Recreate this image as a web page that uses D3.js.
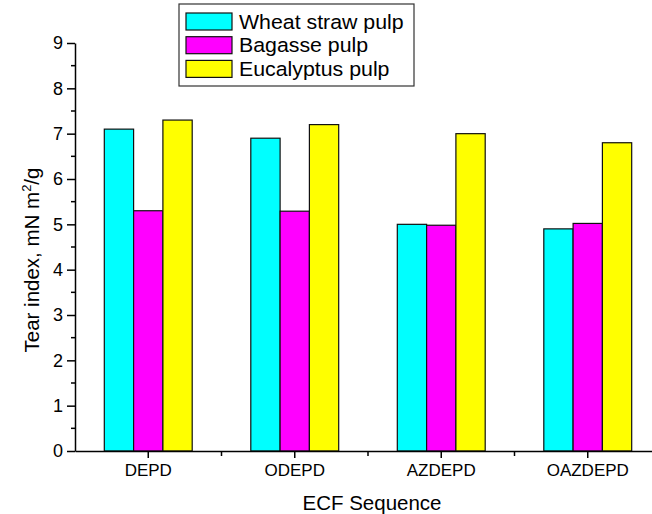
<!DOCTYPE html>
<html>
<head>
<meta charset="utf-8">
<script src="https://cdn.jsdelivr.net/npm/d3@7"></script>
<style>
  body { margin: 0; background: #fff; }
  svg { display: block; font-family: Arial, "Liberation Sans", sans-serif; }
</style>
</head>
<body>
<script>
/*chart data*/
var sequences = ["DEPD", "ODEPD", "AZDEPD", "OAZDEPD"];
var seriesNames = ["Wheat straw pulp", "Bagasse pulp", "Eucalyptus pulp"];
var wheatStraw = [7.1, 6.9, 5.0, 4.9];
var bagasse = [5.3, 5.29, 4.98, 5.02];
var eucalyptus = [7.3, 7.2, 7.0, 6.8];
var yTicks = [0, 1, 2, 3, 4, 5, 6, 7, 8, 9];
var colors = ["#00ffff", "#ff00ff", "#ffff00"];

var seriesValues = [wheatStraw, bagasse, eucalyptus];

var svgWidth = 652, svgHeight = 514;
var margin = {top: 43, left: 75, bottom: 63};
var axisEnd = 661;
var height = svgHeight - margin.top - margin.bottom;

var svg = d3.select("body").append("svg")
  .attr("width", svgWidth)
  .attr("height", svgHeight);

/*scales*/
var xScale = d3.scaleBand()
  .domain(sequences)
  .range([margin.left, axisEnd]);

var xInner = d3.scaleBand()
  .domain(seriesNames)
  .range([0, xScale.bandwidth() * 0.6]);

var yScale = d3.scaleLinear()
  .domain([0, 9])
  .range([margin.top + height, margin.top]);

/*bars*/
var groups = svg.selectAll(".group")
  .data(sequences)
  .enter()
  .append("g")
  .attr("class", "group")
  .attr("transform", d => `translate(${xScale(d) + xScale.bandwidth() * 0.2}, 0)`);

groups.selectAll("rect")
  .data((d, i) => seriesNames.map((s, j) => ({name: s, value: seriesValues[j][i], idx: j})))
  .enter()
  .append("rect")
  .attr("x", d => xInner(d.name))
  .attr("y", d => yScale(d.value))
  .attr("width", xInner.bandwidth())
  .attr("height", d => yScale(0) - yScale(d.value))
  .attr("fill", d => colors[d.idx])
  .attr("stroke", "#111")
  .attr("stroke-width", 1.2);

/*y axis with minor ticks*/
var yAxisG = svg.append("g")
  .attr("transform", `translate(${margin.left}, 0)`)
  .call(d3.axisLeft(yScale).tickValues(yTicks).tickSize(8).tickPadding(4).tickSizeOuter(0));

yAxisG.selectAll(".minor")
  .data(yTicks.slice(0, -1).map(v => v + 0.5))
  .enter()
  .append("line")
  .attr("class", "minor")
  .attr("x1", -4).attr("x2", 0)
  .attr("y1", d => yScale(d)).attr("y2", d => yScale(d))
  .attr("stroke", "#000")
  .attr("stroke-width", 1.5);

/*x axis with ticks at category centres and minor ticks at band edges*/
var xAxisG = svg.append("g")
  .attr("transform", `translate(0, ${yScale(0)})`)
  .call(d3.axisBottom(xScale).tickSize(7).tickPadding(6).tickSizeOuter(0));

xAxisG.selectAll(".minor")
  .data(sequences.slice(1))
  .enter()
  .append("line")
  .attr("class", "minor")
  .attr("x1", d => xScale(d)).attr("x2", d => xScale(d))
  .attr("y1", 0).attr("y2", 5)
  .attr("stroke", "#000")
  .attr("stroke-width", 1.5);

svg.selectAll(".domain").attr("stroke", "#000").attr("stroke-width", 1.5);
svg.selectAll(".tick line").attr("stroke", "#000").attr("stroke-width", 1.5);
yAxisG.selectAll(".tick text").style("font-size", "18px").attr("fill", "#000");
xAxisG.selectAll(".tick text").style("font-size", "17px").attr("fill", "#000");

/*axis titles*/
svg.append("text")
  .attr("x", (margin.left + axisEnd) / 2 + 4)
  .attr("y", 510)
  .attr("text-anchor", "middle")
  .style("font-size", "20.5px")
  .text("ECF Sequence");

var yTitle = svg.append("text")
  .attr("transform", `translate(39, 260) rotate(-90)`)
  .attr("text-anchor", "middle")
  .style("font-size", "20.5px");
yTitle.append("tspan").text("Tear index, mN m");
yTitle.append("tspan").attr("dy", -8).style("font-size", "13px").text("2");
yTitle.append("tspan").attr("dy", 8).text("/g");

/*legend*/
var legend = svg.append("g").attr("transform", "translate(179, 4)");
legend.append("rect")
  .attr("width", 235).attr("height", 82)
  .attr("fill", "#fff")
  .attr("stroke", "#333").attr("stroke-width", 1.2);

var items = legend.selectAll(".item")
  .data(seriesNames)
  .enter()
  .append("g")
  .attr("class", "item")
  .attr("transform", (d, i) => `translate(7, ${9 + i * 23.7})`);

items.append("rect")
  .attr("width", 46).attr("height", 17)
  .attr("fill", (d, i) => colors[i])
  .attr("stroke", "#111").attr("stroke-width", 1.2);

/*legend text looks a bit wider in the picture, stretch it sideways*/
items.append("text")
  .attr("transform", "translate(53, 15.5) scale(1.04, 1)")
  .style("font-size", "20.5px")
  .text(d => d);
</script>
</body>
</html>
